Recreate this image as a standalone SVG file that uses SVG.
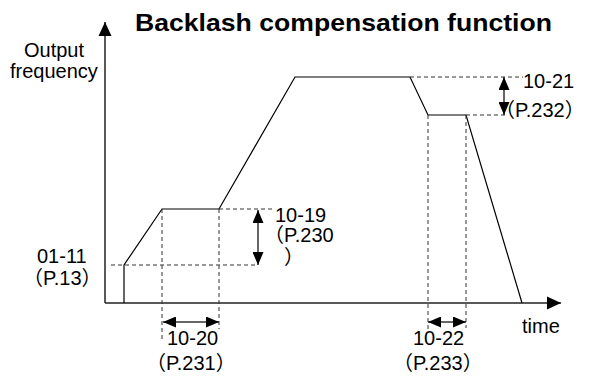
<svg xmlns="http://www.w3.org/2000/svg" width="590" height="376" viewBox="0 0 590 376">
<style>
text{font-family:"Liberation Sans","Noto Sans CJK SC",Arial,sans-serif;font-size:20px;fill:#000}
.title{font-weight:bold;font-size:24px}
.cjk{font-family:"Noto Sans CJK SC","Noto Sans CJK JP",sans-serif}
.axis{stroke:#222;stroke-width:1.5;fill:none}
.curve{stroke:#000;stroke-width:1.2;fill:none}
.dash{stroke:#333;stroke-width:1;stroke-dasharray:4 3;fill:none}
.dim{stroke:#333;stroke-width:1.5;fill:none}
</style>
<defs>
<marker id="ah" markerUnits="userSpaceOnUse" viewBox="0 0 14 14" refX="14" refY="7" markerWidth="14" markerHeight="14" orient="auto-start-reverse">
<path d="M0,0.5 L14,7 L0,13.5 Z" fill="#000"/>
</marker>
<marker id="dh" markerUnits="userSpaceOnUse" viewBox="0 0 13 11" refX="13" refY="5.5" markerWidth="13" markerHeight="11" orient="auto-start-reverse">
<path d="M0,0 L13,5.5 L0,11 Z" fill="#000"/>
</marker>
</defs>
<g id="axes">
<line class="axis" x1="105" y1="303" x2="105" y2="22" marker-end="url(#ah)"/>
<line class="axis" x1="105" y1="303" x2="561" y2="303" marker-end="url(#ah)"/>
</g>
<g id="profile">
<polyline class="curve" points="124,303 124,265 162,209 219,209 295,77 410,77 428,115 466,115 522,303"/>
</g>
<g id="connectors">
<line class="dash" x1="111" y1="265" x2="257" y2="265"/>
<line class="dash" x1="219" y1="209" x2="274" y2="209"/>
<line class="dash" x1="162" y1="209" x2="162" y2="340"/>
<line class="dash" x1="219" y1="209" x2="219" y2="329"/>
<line class="dash" x1="410" y1="77" x2="523" y2="77"/>
<line class="dash" x1="466" y1="115" x2="507" y2="115"/>
<line class="dash" x1="428" y1="115" x2="428" y2="333"/>
<line class="dash" x1="466" y1="115" x2="466" y2="328"/>
<line class="dim" x1="258" y1="210" x2="258" y2="265" marker-start="url(#dh)" marker-end="url(#dh)"/>
<line class="dim" x1="163" y1="322" x2="219" y2="322" marker-start="url(#dh)" marker-end="url(#dh)"/>
<line class="dim" x1="428" y1="322" x2="466" y2="322" marker-start="url(#dh)" marker-end="url(#dh)"/>
<line class="dim" x1="504" y1="77" x2="504" y2="115" marker-start="url(#dh)" marker-end="url(#dh)"/>
</g>
<g id="labels">
<text class="title" x="135" y="31" textLength="417" lengthAdjust="spacingAndGlyphs">Backlash compensation function</text>
<text x="24" y="57">Output</text>
<text x="10" y="78">frequency</text>
<text x="37" y="263">01-11</text>
<text x="23" y="285"><tspan class="cjk">（</tspan>P.13<tspan class="cjk">）</tspan></text>
<text x="275" y="222">10-19</text>
<text x="264" y="242"><tspan class="cjk">（</tspan>P.230</text>
<text x="284" y="264"><tspan class="cjk">）</tspan></text>
<text x="167" y="345">10-20</text>
<text x="146" y="370"><tspan class="cjk">（</tspan>P.231<tspan class="cjk">）</tspan></text>
<text x="413" y="345">10-22</text>
<text x="393" y="370"><tspan class="cjk">（</tspan>P.233<tspan class="cjk">）</tspan></text>
<text x="522" y="333">time</text>
<text x="523" y="88">10-21</text>
<text x="495" y="117"><tspan class="cjk">（</tspan>P.232<tspan class="cjk">）</tspan></text>
</g>
</svg>
